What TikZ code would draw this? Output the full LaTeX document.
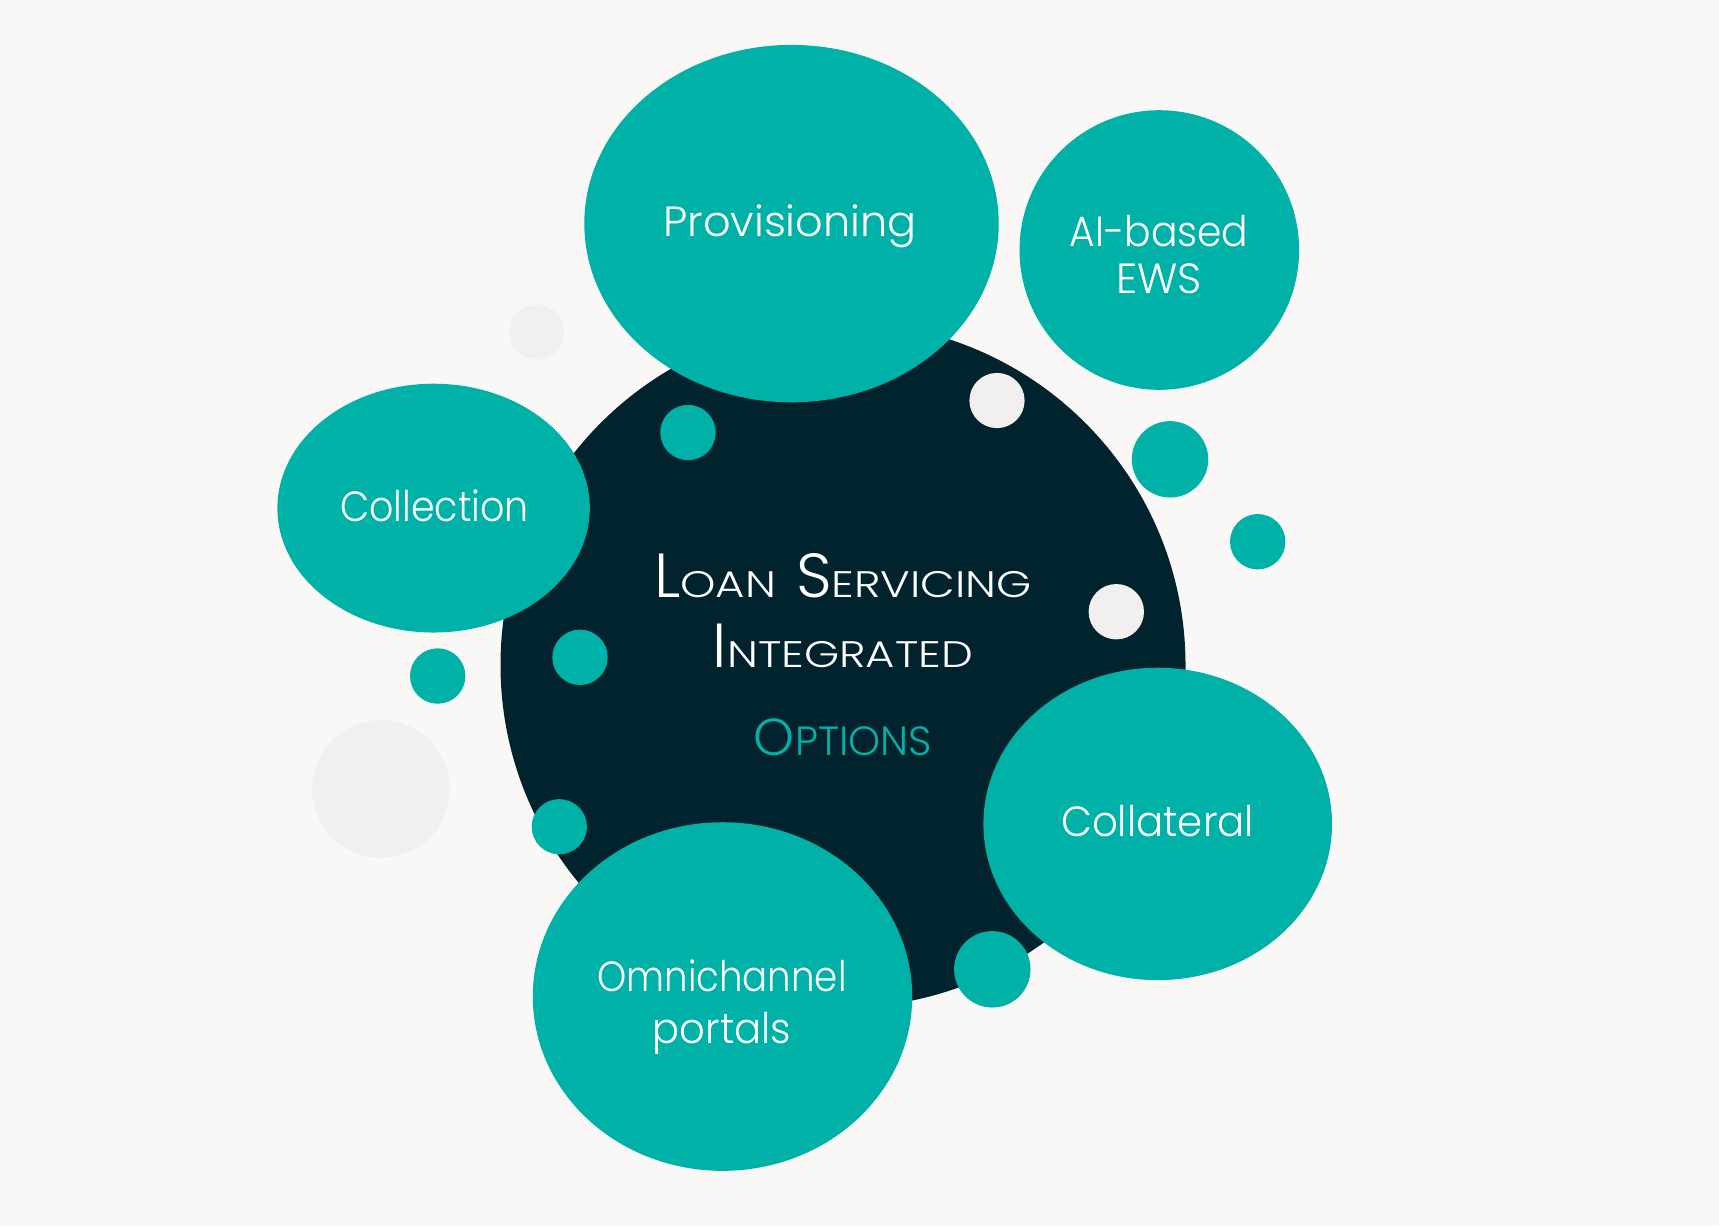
\documentclass[tikz,border=0pt]{standalone}
\usepackage{fontspec}
\IfFontExistsTF{Poppins Light}{\def\basefam{Poppins Light}}{\def\basefam{Poppins}}
\setmainfont{\basefam}
\definecolor{bubble}{RGB}{0,177,168}
\definecolor{ink}{RGB}{0,35,46}
\definecolor{paper}{RGB}{249,248,246}
\definecolor{mist}{RGB}{241,240,239}
\newcommand\capA[2]{{\fontsize{17.7}{20}\selectfont #1}{\fontsize{10.5}{13}\selectfont\scalebox{1.22}[1]{#2}}}
\newcommand\capB[2]{{\fontsize{14.8}{17}\selectfont #1}{\fontsize{11.6}{14}\selectfont #2}}
\newcommand\sqz[2]{\scalebox{#1}[1]{#2}}
\tikzset{
  label/.style={text=white, font=\fontsize{12}{14.7}\selectfont, inner sep=0pt, align=center, anchor=base},
  title/.style={text=white, inner sep=0pt, anchor=base},
}
\begin{document}
\begin{tikzpicture}[x=0.01cm,y=-0.01cm]
\fill[paper] (0,0) rectangle (1719,1226);
\useasboundingbox (0,0) rectangle (1719,1226);
% central disc
\fill[ink] (843,665) circle[radius=342.5];
% pale circles
\fill[mist] (536.6,332) circle[radius=27.6];
\fill[mist] (381,789) circle[radius=68.8];
% big bubbles
\fill[bubble] (791.5,223.6) ellipse[x radius=207.2, y radius=178.7];
\fill[bubble] (1159.3,250) circle[radius=139.8];
\fill[bubble] (433.6,508.1) ellipse[x radius=156.2, y radius=124.4];
\fill[bubble] (1157.7,823.9) ellipse[x radius=174.3, y radius=156.2];
\fill[bubble] (722.5,996.5) ellipse[x radius=189.7, y radius=174.3];
% small dots
\fill[bubble] (688,432.5) circle[radius=27.7];
\fill[mist] (997,400.5) circle[radius=27.6];
\fill[bubble] (1170,459.3) circle[radius=38.2];
\fill[bubble] (1257.7,541.7) circle[radius=27.7];
\fill[mist] (1116.3,611.7) circle[radius=27.7];
\fill[bubble] (580,657.3) circle[radius=27.7];
\fill[bubble] (437.7,676) circle[radius=27.7];
\fill[bubble] (559.3,826.7) circle[radius=27.6];
\fill[bubble] (992.3,969.3) circle[radius=38.2];
% labels
\node[label] (prov) at (790,236.7) {\sqz{1.02}{Provisioning}};
\node[label, font=\fontsize{12}{13.3}\selectfont] (ews) at (1159,293.3) {\sqz{0.93}{AI-based}\\EWS};
\node[label] (coll) at (434.5,521.7) {\sqz{0.9}{Collection}};
\node[label] (colt) at (1157.5,836.7) {\sqz{0.955}{Collateral}};
\node[label] (omni) at (722,1043.3) {\sqz{0.88}{Omnichannel}\\\sqz{0.95}{portals}};
% title
\node[title] (t1) at (843,597) {\capA{L}{OAN}\hspace{0.2cm}\capA{S}{ERVICING}};
\node[title] (t2) at (843,667) {\capA{I}{NTEGRATED}};
\node[title, text=bubble] (t3) at (843,755) {\capB{O}{PTIONS}};
\end{tikzpicture}
\end{document}
